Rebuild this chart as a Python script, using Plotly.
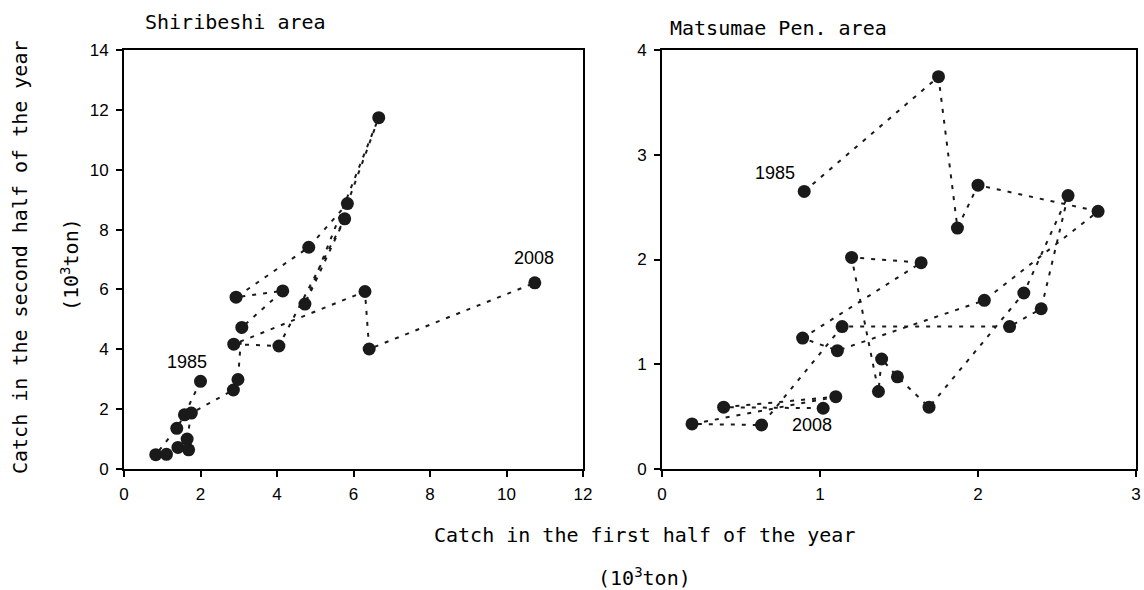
import plotly.graph_objects as go

# Shiribeshi area, in year order 1985 -> 2008 (10^3 ton)
shiri_first = [2.00, 1.58, 1.38, 0.83, 1.11, 1.41, 1.69, 1.65, 1.76, 2.86, 2.98, 3.08,
               4.15, 2.93, 4.83, 5.84, 6.66, 4.73, 5.77, 4.05, 2.87, 6.30, 6.41, 10.74]
shiri_second = [2.93, 1.81, 1.36, 0.48, 0.49, 0.72, 0.64, 1.00, 1.87, 2.64, 2.99, 4.73,
                5.95, 5.74, 7.41, 8.87, 11.74, 5.51, 8.36, 4.11, 4.17, 5.93, 4.01, 6.22]

# Matsumae Pen. area, in year order 1985 -> 2008 (10^3 ton)
matsu_first = [0.90, 1.75, 1.87, 2.00, 2.76, 2.04, 1.11, 0.89, 1.64, 1.20, 1.37, 1.39,
               1.49, 1.69, 2.29, 2.57, 2.40, 2.20, 1.14, 0.63, 0.19, 1.10, 0.39, 1.02]
matsu_second = [2.65, 3.745, 2.30, 2.71, 2.46, 1.61, 1.13, 1.25, 1.97, 2.02, 0.74, 1.05,
                0.88, 0.59, 1.68, 2.61, 1.53, 1.36, 1.36, 0.42, 0.43, 0.69, 0.59, 0.58]

shiri_xticks = [0, 2, 4, 6, 8, 10, 12]
shiri_yticks = [0, 2, 4, 6, 8, 10, 12, 14]
matsu_xticks = [0, 1, 2, 3]
matsu_yticks = [0, 1, 2, 3, 4]

W, H = 1144, 590


def px(xs):
    return xs / W


def py(ys):
    return 1 - ys / H


MONO = "DejaVu Sans Mono, Liberation Mono, monospace"
NARROW = "Liberation Sans Narrow, Liberation Sans, Arial, sans-serif"

fig = go.Figure()


def add_series(xs, ys, xa, ya):
    fig.add_trace(go.Scatter(
        x=xs, y=ys, xaxis=xa, yaxis=ya, mode="lines+markers",
        line=dict(color="#1a1a1a", width=2, dash="4px,7px"),
        marker=dict(color="#1a1a1a", size=13),
        showlegend=False, cliponaxis=False))


add_series(shiri_first, shiri_second, "x", "y")
add_series(matsu_first, matsu_second, "x2", "y2")

ytop = py(50)
ybot = py(469)

axis_common = dict(showline=True, linecolor="black", linewidth=2, mirror=True,
                   ticks="outside", ticklen=6, tickwidth=1.5, tickcolor="black",
                   showgrid=False, zeroline=False,
                   tickfont=dict(family=NARROW, size=17, color="black"))

fig.update_layout(
    width=W, height=H,
    margin=dict(l=0, r=0, t=0, b=0, autoexpand=False),
    paper_bgcolor="white", plot_bgcolor="white",
    xaxis=dict(domain=[px(124), px(583)], range=[0, 12], tickvals=shiri_xticks,
               anchor="y", ticklabelstandoff=3, **axis_common),
    yaxis=dict(domain=[ybot, ytop], range=[0, 14], tickvals=shiri_yticks,
               anchor="x", ticklabelstandoff=4, **axis_common),
    xaxis2=dict(domain=[px(662), px(1136)], range=[0, 3], tickvals=matsu_xticks,
                anchor="y2", ticklabelstandoff=3, **axis_common),
    yaxis2=dict(domain=[ybot, ytop], range=[0, 4], tickvals=matsu_yticks,
                anchor="x2", ticklabelstandoff=4, **axis_common),
)

ann_font = dict(family=NARROW, size=18, color="black")
big_font = dict(family=MONO, size=20, color="black")


def paper_text(text, xs, ys, angle=0, xanchor="center"):
    return dict(text=text, x=px(xs), y=py(ys), xref="paper", yref="paper",
                xanchor=xanchor, yanchor="middle", textangle=angle,
                showarrow=False, font=big_font)


annotations = [
    dict(text="1985", x=1.65, y=3.58, xref="x", yref="y", showarrow=False,
         xanchor="center", yanchor="middle", font=ann_font),
    dict(text="2008", x=10.71, y=7.05, xref="x", yref="y", showarrow=False,
         xanchor="center", yanchor="middle", font=ann_font),
    dict(text="1985", x=0.714, y=2.83, xref="x2", yref="y2", showarrow=False,
         xanchor="center", yanchor="middle", font=ann_font),
    dict(text="2008", x=0.95, y=0.42, xref="x2", yref="y2", showarrow=False,
         xanchor="center", yanchor="middle", font=ann_font),
    paper_text("Shiribeshi area", 143, 22, xanchor="left"),
    paper_text("Matsumae Pen. area", 668, 28, xanchor="left"),
    paper_text("Catch in the second half of the year", 20, 258, angle=-90),
    paper_text("(10<sup>3</sup>ton)", 70, 265, angle=-90),
    paper_text("Catch in the first half of the year", 644, 535),
    paper_text("(10<sup>3</sup>ton)", 644, 577),
]
fig.update_layout(annotations=annotations)

fig.write_html("out.html")
